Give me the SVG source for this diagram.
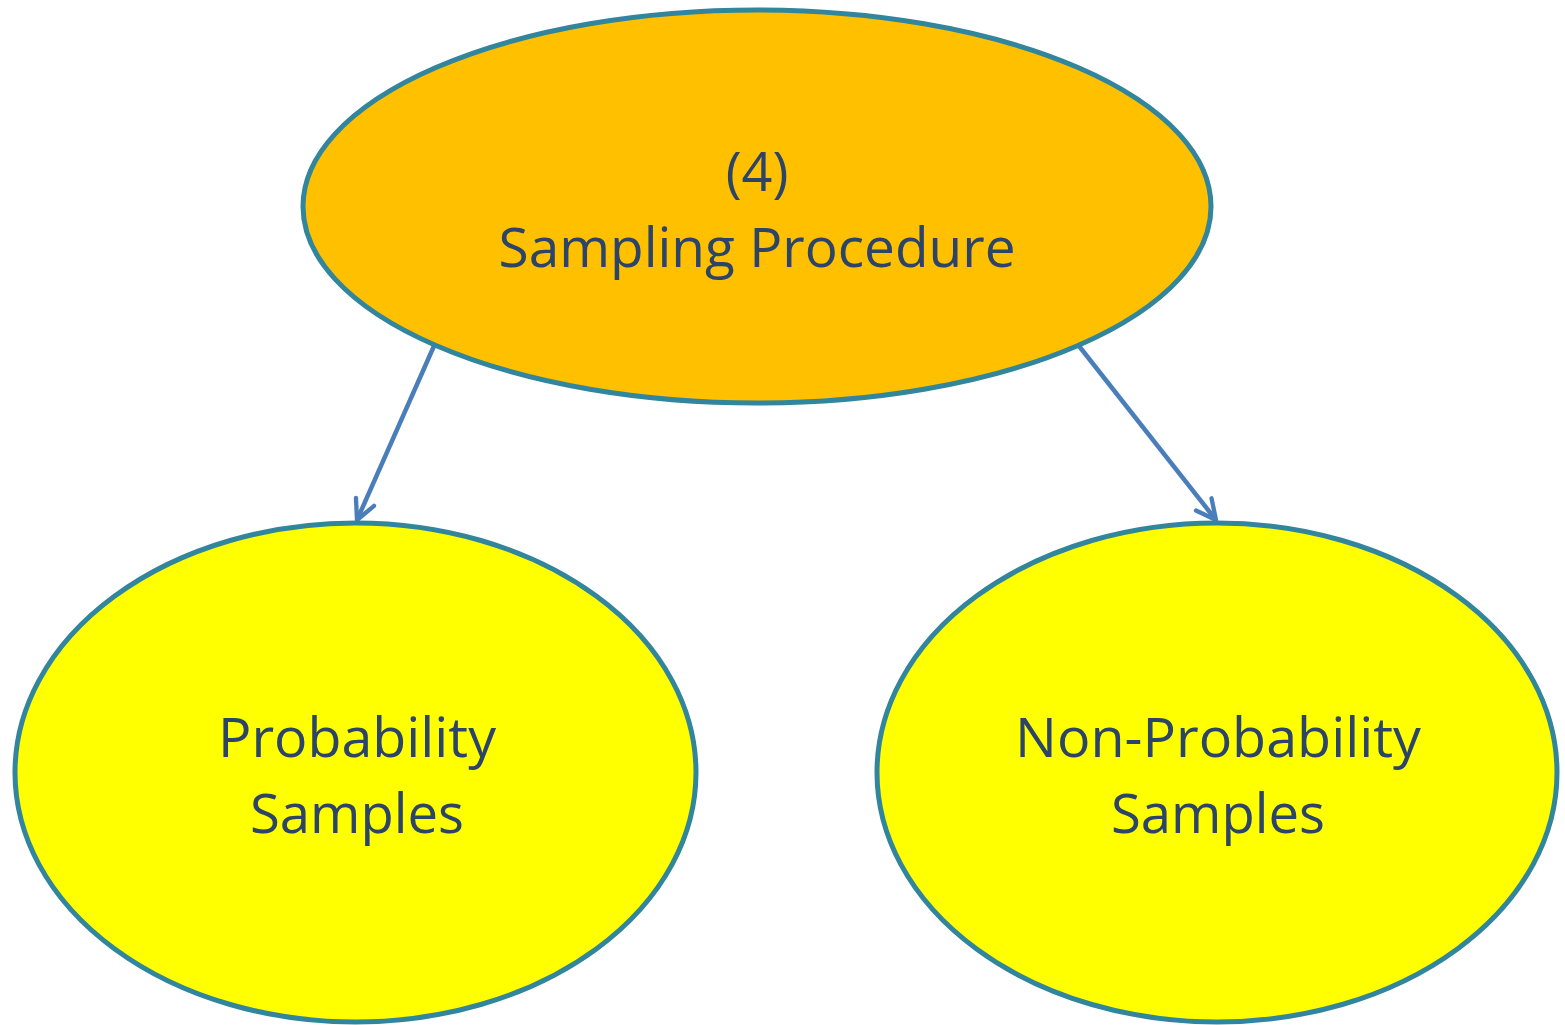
<svg xmlns="http://www.w3.org/2000/svg" width="1565" height="1025" viewBox="0 0 1565 1025">
<style>
.node{stroke:#31859C;stroke-width:5}
.lbl{font-family:"Open Sans","Noto Sans",sans-serif;font-size:54px;fill:#2B4468;text-anchor:middle}
.conn{stroke:#4A7EBB;stroke-width:4.5;fill:none}
</style>
<defs>
<marker id="arr" viewBox="0 0 20 20" refX="18" refY="10" markerWidth="5.5" markerHeight="5.5" markerUnits="strokeWidth" orient="auto">
<path d="M2,2 L18,10 L2,18" fill="none" stroke="#4A7EBB" stroke-width="3.5" stroke-linecap="round" stroke-linejoin="round"/>
</marker>
</defs>
<rect width="1565" height="1025" fill="#fff"/>
<g id="connectors">
<line class="conn" x1="434" y1="346" x2="357" y2="520" marker-end="url(#arr)"/>
<line class="conn" x1="1079" y1="346" x2="1216" y2="520" marker-end="url(#arr)"/>
</g>
<g id="sampling-procedure">
<ellipse class="node" cx="757" cy="206.5" rx="454" ry="196.5" fill="#FFC000"/>
<text class="lbl" x="757" y="191" font-size="56">(4)</text>
<text class="lbl" x="757" y="267" textLength="517" lengthAdjust="spacingAndGlyphs">Sampling Procedure</text>
</g>
<g id="probability-samples">
<ellipse class="node" cx="355.5" cy="772.5" rx="340.5" ry="249.5" fill="#FFFF00"/>
<text class="lbl" x="357" y="757" textLength="278" lengthAdjust="spacingAndGlyphs">Probability</text>
<text class="lbl" x="357" y="833" textLength="214" lengthAdjust="spacingAndGlyphs">Samples</text>
</g>
<g id="non-probability-samples">
<ellipse class="node" cx="1217" cy="772.5" rx="340" ry="249.5" fill="#FFFF00"/>
<text class="lbl" x="1218" y="757" textLength="406" lengthAdjust="spacingAndGlyphs">Non-Probability</text>
<text class="lbl" x="1218" y="833" textLength="214" lengthAdjust="spacingAndGlyphs">Samples</text>
</g>
</svg>
